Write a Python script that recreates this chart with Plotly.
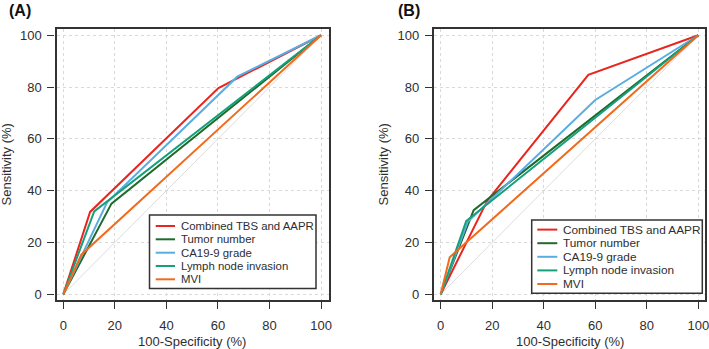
import plotly.graph_objects as go

# ---------------- data ----------------
series_names = ["Combined TBS and AAPR", "Tumor number", "CA19-9 grade",
                "Lymph node invasion", "MVI"]
series_colors = ["#e8261f", "#1e6b2c", "#5aade2", "#16a07a", "#f36a1c"]

# Panel A (100-Specificity %, Sensitivity %)
a_combined_x = [0, 10.4, 60.2, 100]
a_combined_y = [0, 31.8, 79.6, 100]
a_tumor_x = [0, 18.7, 100]
a_tumor_y = [0, 35.0, 100]
a_ca199_x = [0, 17.0, 67.5, 100]
a_ca199_y = [0, 35.5, 84.0, 100]
a_lymph_x = [0, 12.0, 100]
a_lymph_y = [0, 32.0, 100]
a_mvi_x = [0, 7.0, 100]
a_mvi_y = [0, 15.3, 100]

# Panel B
b_combined_x = [0, 18.0, 57.3, 100]
b_combined_y = [0, 36.0, 84.7, 100]
b_tumor_x = [0, 12.8, 100]
b_tumor_y = [0, 32.5, 100]
b_ca199_x = [0, 10.5, 60.0, 100]
b_ca199_y = [0, 28.0, 75.0, 100]
b_lymph_x = [0, 9.9, 100]
b_lymph_y = [0, 28.3, 100]
b_mvi_x = [0, 3.5, 100]
b_mvi_y = [0, 14.3, 100]

diag_x = [0, 100]
diag_y = [0, 100]

tick_vals = [0, 20, 40, 60, 80, 100]
tick_text = ["0", "20", "40", "60", "80", "100"]
panel_labels = ["(A)", "(B)"]
x_title = "100-Specificity (%)"
y_title = "Sensitivity (%)"

# ---------------- layout helpers ----------------
W, H = 709, 349
FONT = "Liberation Sans, Arial, sans-serif"
TXT = "#2e2e2e"
FS = 13


def px(x):
    return x / W


def py(y):
    return 1 - y / H


panel_a = [(a_combined_x, a_combined_y), (a_tumor_x, a_tumor_y),
           (a_ca199_x, a_ca199_y), (a_lymph_x, a_lymph_y), (a_mvi_x, a_mvi_y)]
panel_b = [(b_combined_x, b_combined_y), (b_tumor_x, b_tumor_y),
           (b_ca199_x, b_ca199_y), (b_lymph_x, b_lymph_y), (b_mvi_x, b_mvi_y)]

fig = go.Figure()

for panel, xa, ya in [(panel_a, "x", "y"), (panel_b, "x2", "y2")]:
    fig.add_trace(go.Scatter(x=diag_x, y=diag_y, mode="lines", xaxis=xa, yaxis=ya,
                             line=dict(color="#dcdcdc", width=1),
                             showlegend=False, hoverinfo="skip"))
    for (sx, sy), name, col in zip(panel, series_names, series_colors):
        fig.add_trace(go.Scatter(x=sx, y=sy, mode="lines", name=name,
                                 xaxis=xa, yaxis=ya,
                                 line=dict(color=col, width=2),
                                 showlegend=False))

axis_common = dict(
    tickvals=tick_vals, ticktext=tick_text,
    showline=True, mirror=True, linecolor="#333333", linewidth=2.2,
    ticks="outside", ticklen=7, tickwidth=1, tickcolor="#333333",
    showgrid=True, gridcolor="#d9d9d9", griddash="dot", gridwidth=1,
    zeroline=False, tickfont=dict(family=FONT, size=FS, color=TXT),
    fixedrange=True, automargin=False, ticklabeloverflow="allow",
)
y_range = [-2.2, 102.6]
y_dom = [py(300), py(28.5)]

fig.update_layout(
    width=W, height=H, margin=dict(l=0, r=0, t=0, b=0),
    paper_bgcolor="white", plot_bgcolor="white", showlegend=False,
    font=dict(family=FONT, color=TXT),
    xaxis=dict(axis_common, range=[-2.64, 103.1], domain=[px(56.5), px(329)],
               anchor="y", ticklabelstandoff=5),
    yaxis=dict(axis_common, range=y_range, domain=y_dom, anchor="x",
               ticklabelstandoff=3),
    xaxis2=dict(axis_common, range=[-2.6, 102.6], domain=[px(434), px(705)],
                anchor="y2", ticklabelstandoff=5),
    yaxis2=dict(axis_common, range=y_range, domain=y_dom, anchor="x2",
                ticklabelstandoff=3),
)

# axis titles
for cx in [192, 569.5]:
    fig.add_annotation(xref="paper", yref="paper", x=px(cx), y=py(341.7),
                       xanchor="center", yanchor="middle", showarrow=False,
                       text=x_title, font=dict(family=FONT, size=FS, color=TXT))
for cx in [6.5, 383.5]:
    fig.add_annotation(xref="paper", yref="paper", x=px(cx), y=py(165),
                       xanchor="center", yanchor="middle", showarrow=False,
                       textangle=-90,
                       text=y_title, font=dict(family=FONT, size=FS, color=TXT))

# panel labels
for lab, lx in zip(panel_labels, [6.5, 395.5]):
    fig.add_annotation(xref="paper", yref="paper", x=px(lx), y=py(10.5),
                       xanchor="left", yanchor="middle", showarrow=False,
                       text="<b>%s</b>" % lab,
                       font=dict(family=FONT, size=16, color="#111111"))

# manual legends (box, line samples, labels)
legend_specs = [
    dict(box=(149.5, 215, 316, 288.5), rows=[226, 239.3, 252.7, 266, 279.3],
         line=(155.7, 175), tx=179.3, fs=11.4),
    dict(box=(531.7, 220, 702.3, 293.3), rows=[229.6, 243.2, 256.8, 270.4, 284],
         line=(537.3, 557.3), tx=560.7, fs=11.8),
]
for spec in legend_specs:
    x0, y0, x1, y1 = spec["box"]
    fig.add_shape(type="rect", xref="paper", yref="paper",
                  x0=px(x0), x1=px(x1), y0=py(y1), y1=py(y0),
                  line=dict(color="#333333", width=1.5), fillcolor="white", layer="above")
    for ry, name, col in zip(spec["rows"], series_names, series_colors):
        fig.add_shape(type="line", xref="paper", yref="paper",
                      x0=px(spec["line"][0]), x1=px(spec["line"][1]),
                      y0=py(ry), y1=py(ry), line=dict(color=col, width=2), layer="above")
        fig.add_annotation(xref="paper", yref="paper", x=px(spec["tx"]), y=py(ry),
                           xanchor="left", yanchor="middle", showarrow=False,
                           text=name, font=dict(family=FONT, size=spec["fs"], color=TXT))

fig.write_html("out.html", config={"displayModeBar": False},
               post_script="document.body.style.margin='0';document.body.style.overflow='hidden';")
